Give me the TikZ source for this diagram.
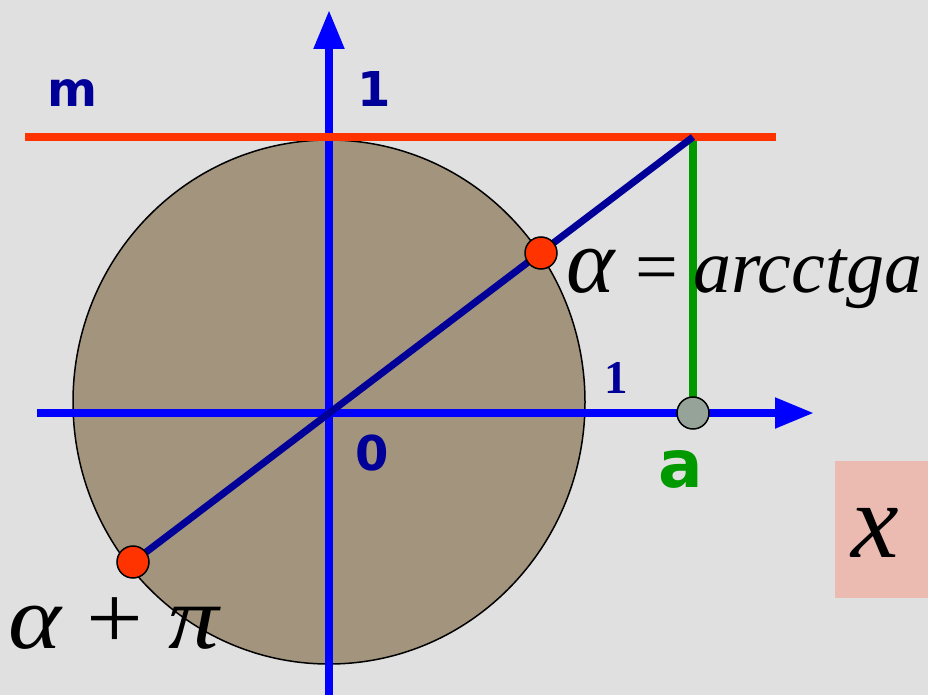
\documentclass[tikz,border=0pt]{standalone}
\usepackage{fontspec}
\setmainfont{Liberation Serif}
\newfontfamily\vsans{DejaVu Sans}
\usetikzlibrary{arrows.meta}
\definecolor{bg}{RGB}{224,224,224}
\definecolor{disk}{RGB}{163,148,126}
\definecolor{axisblue}{RGB}{0,0,255}
\definecolor{navy}{RGB}{0,0,153}
\definecolor{mred}{RGB}{255,51,0}
\definecolor{mgreen}{RGB}{0,153,0}
\definecolor{dotgray}{RGB}{150,163,152}
\definecolor{pinkbox}{RGB}{235,187,177}
\begin{document}
\begin{tikzpicture}[x=1bp,y=-1bp,
  axisline/.style={draw=axisblue,line width=8bp,-{Triangle[length=39bp,width=29bp]}},
  dotred/.style={circle,inner sep=0pt,minimum size=32bp,fill=mred,draw=black,line width=1.5bp},
  dotgr/.style={circle,inner sep=0pt,minimum size=32bp,fill=dotgray,draw=black,line width=1.5bp},
  sanslbl/.style={anchor=base west,inner sep=0pt,text=navy,font=\vsans\bfseries\fontsize{48bp}{48bp}\selectfont},
  mathlbl/.style={anchor=base west,inner sep=0pt,text=black,font=\fontsize{76bp}{76bp}\selectfont}
]
\path[use as bounding box,fill=bg] (0,0) rectangle (928,695);

% points
\coordinate (O) at (329,413);
\coordinate (ytop) at (329,10);
\coordinate (ybot) at (329,695);
\coordinate (xl) at (37,413);
\coordinate (xr) at (814,413);
\coordinate (ml) at (25,137);
\coordinate (mr) at (776,137);
\coordinate (T) at (693,137);
\coordinate (A) at (693,413);
\coordinate (P1) at (541,253);
\coordinate (P2) at (133,562);

% disk
\draw[fill=disk,line width=1.5bp] (329,402) ellipse [x radius=256,y radius=262];

% axes
\draw[axisline] (ybot) -- (ytop);
\draw[axisline] (xl) -- (xr);

% green segment
\draw[mgreen,line width=8bp] (T) -- (A);

% line m
\draw[mred,line width=8bp] (ml) -- (mr);

% diameter line
\draw[navy,line width=7bp] (P2) -- (T);

% dots
\node[dotred] (p1) at (P1) {};
\node[dotred] (p2) at (P2) {};
\node[dotgr] (a) at (A) {};

% labels
\node[sanslbl] (mlbl) at (47,107) {m};
\node[sanslbl] (onev) at (357,107) {1};
\node[sanslbl] (zero) at (355,470) {0};
\node[anchor=base west,inner sep=0pt,text=mgreen,font=\vsans\bfseries\fontsize{66bp}{66bp}\selectfont] (albl) at (658,487) {a};
\node[anchor=base west,inner sep=0pt,text=navy,font=\bfseries\fontsize{47bp}{47bp}\selectfont] (oneh) at (604,393) {1};

\node[mathlbl,font=\fontsize{92bp}{92bp}\selectfont] (alpha) at (566,292) {\itshape α};
\node[mathlbl] (eq) at (635,292) {=};
\node[mathlbl] (arc) at (693,292) {\itshape arcctga};

\node[mathlbl,font=\fontsize{90bp}{90bp}\selectfont] (apl) at (8,648) {\scalebox{1.12}[1]{\itshape α\upshape\ + \itshape π}};

% formula box
\fill[pinkbox] (835,461) rectangle (940,598);
\node[anchor=base west,inner sep=0pt,font=\fontsize{107bp}{107bp}\selectfont] (xeq) at (851,557) {\itshape x\upshape\ \hspace{1bp}=};
\end{tikzpicture}
\end{document}
